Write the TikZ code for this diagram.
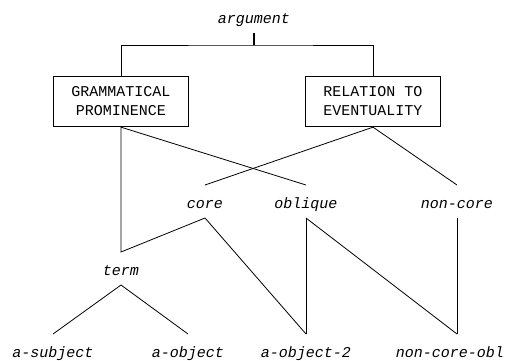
\documentclass[tikz,border=0pt]{standalone}
\usepackage{fontspec}
\setmonofont{Liberation Mono}
\begin{document}
\begin{tikzpicture}[x=1pt,y=-1pt, line width=0.8pt,
  lbl/.style={font=\fontsize{15}{19}\selectfont\ttfamily\itshape, anchor=base,
    text height=16pt, text depth=3pt, inner ysep=0pt, inner xsep=0pt,
    outer ysep=7pt, outer xsep=0pt},
  box/.style={draw, font=\fontsize{15}{19}\selectfont\ttfamily, align=center,
    minimum width=135pt, minimum height=50.5pt, inner sep=0pt},
  stub/.style={line width=1.6pt}]
\useasboundingbox (0,0) rectangle (509,360);
\node[lbl] (arg) at (254,23) {argument};
\node[box] (gp) at (121,101.5) {GRAMMATICAL\\PROMINENCE};
\node[box] (re) at (373,101.5) {RELATION TO\\EVENTUALITY};
\node[lbl] (core) at (205,208) {core};
\node[lbl] (obl) at (306,208) {oblique};
\node[lbl] (nc) at (457,208) {non-core};
\node[lbl] (term) at (121,275) {term};
\node[lbl] (asub) at (53,357) {a-subject};
\node[lbl] (aobj) at (188,357) {a-object};
\node[lbl] (aobj2) at (306,357) {a-object-2};
\node[lbl] (nco) at (450,357) {non-core-obl};
\coordinate (bar) at (254,45);
\draw[stub] (arg.south) -- (bar);
\draw (gp.north) |- (bar) -| (re.north);
\draw (gp.south) -- (term.north) -- (core.south);
\draw (gp.south) -- (obl.north);
\draw (re.south) -- (core.north);
\draw (re.south) -- (nc.north);
\draw (term.south) -- (asub.north);
\draw (term.south) -- (aobj.north);
\draw (core.south) -- (aobj2.north);
\draw (obl.south) -- (aobj2.north);
\draw (obl.south) -- (nc.south |- nco.north);
\draw (nc.south) -- (nc.south |- nco.north);
\end{tikzpicture}
\end{document}
